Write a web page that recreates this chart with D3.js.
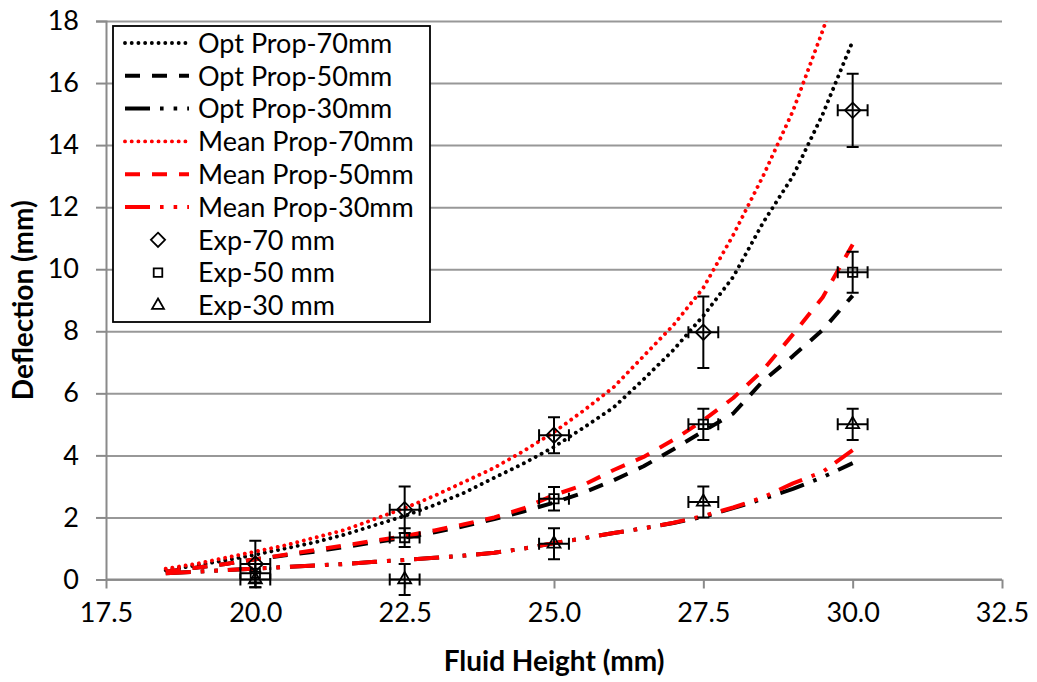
<!DOCTYPE html>
<html><head><meta charset="utf-8">
<script src="https://cdn.jsdelivr.net/npm/d3@7"></script>
<style>
body{margin:0;background:#fff;}
svg{display:block;font-family:Lato,"Noto Sans",sans-serif;}
</style></head>
<body><svg id="chart" width="1037" height="682"></svg>
<script>
// ---- Data ----
const xModel = [18.5,19,19.5,20,20.5,21,21.5,22,22.5,23,23.5,24,24.5,25,25.5,26,26.5,27,27.5,28,28.5,29,29.5,30];
const optProp70  = [0.3,0.45,0.62,0.8,1.0,1.2,1.45,1.75,2.05,2.4,2.8,3.28,3.75,4.27,4.9,5.55,6.45,7.4,8.5,9.75,11.5,13.0,15.0,17.35];
const optProp50  = [0.25,0.38,0.5,0.65,0.78,0.9,1.05,1.2,1.35,1.52,1.72,1.95,2.2,2.48,2.8,3.2,3.65,4.2,4.78,5.35,6.4,7.2,8.05,9.15];
const optProp30  = [0.2,0.25,0.3,0.35,0.4,0.45,0.5,0.57,0.63,0.7,0.77,0.86,1.0,1.17,1.33,1.5,1.65,1.82,2.02,2.3,2.6,2.92,3.3,3.75];
const meanProp70 = [0.35,0.5,0.7,0.9,1.1,1.35,1.6,1.95,2.3,2.7,3.15,3.6,4.15,4.75,5.45,6.2,7.2,8.2,9.4,11.1,13.0,15.1,17.7,20.5];
const meanProp50 = [0.25,0.38,0.5,0.65,0.8,0.95,1.1,1.25,1.4,1.58,1.78,2.0,2.3,2.72,3.05,3.53,3.95,4.5,5.13,5.85,6.75,7.9,9.1,10.8];
const meanProp30 = [0.2,0.25,0.3,0.35,0.4,0.45,0.5,0.57,0.63,0.7,0.77,0.86,1.0,1.17,1.33,1.5,1.65,1.83,2.05,2.32,2.65,3.1,3.47,4.17];

const xExp = [20,22.5,25,27.5,30];
const xExpErr = [0.25,0.25,0.25,0.25,0.25];
const exp70 = [0.5,2.25,4.65,7.97,15.12];
const exp70Err = [0.75,0.75,0.58,1.15,1.18];
const exp50 = [0.2,1.35,2.6,5.0,9.9];
const exp50Err = [0.3,0.3,0.38,0.5,0.66];
const exp30 = [0.0,0.0,1.15,2.5,5.0];
const exp30Err = [0.25,0.5,0.5,0.5,0.5];

const xTicks = [17.5,20,22.5,25,27.5,30,32.5];
const yTicks = [0,2,4,6,8,10,12,14,16,18];
const xTitle = "Fluid Height (mm)";
const yTitle = "Deflection (mm)";

// ---- Layout ----
const svg = d3.select("#chart");
const L = 106, R = 1002, T = 21, B = 579.5;
const x = d3.scaleLinear().domain([17.5,32.5]).range([L,R]);
const y = d3.scaleLinear().domain([0,18]).range([B,T]);
const FS = 27;

svg.append("defs").append("clipPath").attr("id","plotclip")
  .append("rect").attr("x",L-20).attr("y",T).attr("width",R-L+40).attr("height",B-T+30);

// gridlines
const grid = svg.append("g").attr("transform",`translate(${L},0)`)
  .call(d3.axisLeft(y).tickValues(yTicks).tickSize(-(R-L)).tickFormat(""));
grid.select(".domain").remove();
grid.selectAll("line").attr("stroke","#989898").attr("stroke-width",2);

// y axis
const ya = svg.append("g").attr("transform",`translate(${L},0)`)
  .call(d3.axisLeft(y).tickValues(yTicks).tickSize(10).tickPadding(17).tickFormat(d3.format("d")));
ya.select(".domain").attr("stroke","#8a8a8a").attr("stroke-width",2);
ya.selectAll("line").attr("stroke","#8a8a8a").attr("stroke-width",2);
ya.selectAll("text").attr("font-size",FS).attr("fill","#000").attr("font-family","Lato");

// x axis
const xa = svg.append("g").attr("transform",`translate(0,${B})`)
  .call(d3.axisBottom(x).tickValues(xTicks).tickSize(9).tickPadding(14).tickFormat(d3.format(".1f")));
xa.select(".domain").attr("stroke","#8a8a8a").attr("stroke-width",2).attr("d",`M${L},0H${R}`);
xa.selectAll("line").attr("stroke","#8a8a8a").attr("stroke-width",2);
xa.selectAll("text").attr("font-size",FS).attr("fill","#000").attr("font-family","Lato");

// titles
svg.append("text").attr("x",(L+R)/2).attr("y",671).attr("text-anchor","middle")
  .attr("font-size",28).attr("font-weight","bold").text(xTitle);
svg.append("text").attr("transform",`translate(33,${(T+B)/2}) rotate(-90)`).attr("text-anchor","middle")
  .attr("font-size",28).attr("font-weight","bold").text(yTitle);

// line styles
const styles = {
  dot: {dash:"0.01 6.7", cap:"round", w:3.9},
  dash:{dash:"15 12", cap:"butt", w:4},
  ldd: {dash:"25 10 3.6 10 3.6 10", cap:"butt", w:4}
};
const series = [
  {name:"Opt Prop-70mm", vals:optProp70, color:"#000", st:"dot"},
  {name:"Opt Prop-50mm", vals:optProp50, color:"#000", st:"dash"},
  {name:"Opt Prop-30mm", vals:optProp30, color:"#000", st:"ldd"},
  {name:"Mean Prop-70mm", vals:meanProp70, color:"#ff0000", st:"dot"},
  {name:"Mean Prop-50mm", vals:meanProp50, color:"#ff0000", st:"dash"},
  {name:"Mean Prop-30mm", vals:meanProp30, color:"#ff0000", st:"ldd"}
];
const line = d3.line().x(d=>x(d[0])).y(d=>y(d[1]));
const plot = svg.append("g").attr("clip-path","url(#plotclip)");
series.forEach(s=>{
  const st = styles[s.st];
  plot.append("path").datum(xModel.map((xv,i)=>[xv,s.vals[i]]))
    .attr("d",line).attr("fill","none").attr("stroke",s.color)
    .attr("stroke-width",st.w).attr("stroke-dasharray",st.dash).attr("stroke-linecap",st.cap)
    .attr("stroke-linejoin","round");
});

// experimental points
const sym = {diamond:d3.symbolDiamond2, square:d3.symbolSquare2, triangle:d3.symbolTriangle2};
const exps = [
  {name:"Exp-70 mm", vals:exp70, err:exp70Err, shape:"diamond", size:150},
  {name:"Exp-50 mm", vals:exp50, err:exp50Err, shape:"square", size:110},
  {name:"Exp-30 mm", vals:exp30, err:exp30Err, shape:"triangle", size:120}
];
const cap = 6;
exps.forEach(e=>{
  const g = svg.append("g");
  xExp.forEach((xv,i)=>{
    const cx = x(xv), cy = y(e.vals[i]);
    g.append("path").attr("d", d3.symbol(sym[e.shape], e.size)())
      .attr("transform",`translate(${cx},${cy})`).attr("fill","none").attr("stroke","#000").attr("stroke-width",1.8);
    const y1 = y(e.vals[i]+e.err[i]), y2 = y(e.vals[i]-e.err[i]);
    const x1 = x(xv-xExpErr[i]), x2 = x(xv+xExpErr[i]);
    const p = d3.path();
    p.moveTo(cx,y1); p.lineTo(cx,y2);
    p.moveTo(cx-cap,y1); p.lineTo(cx+cap,y1);
    p.moveTo(cx-cap,y2); p.lineTo(cx+cap,y2);
    p.moveTo(x1,cy); p.lineTo(x2,cy);
    p.moveTo(x1,cy-cap); p.lineTo(x1,cy+cap);
    p.moveTo(x2,cy-cap); p.lineTo(x2,cy+cap);
    g.append("path").attr("d",p.toString()).attr("fill","none").attr("stroke","#000").attr("stroke-width",2);
  });
});

// legend
const lg = svg.append("g");
lg.append("rect").attr("x",113).attr("y",26).attr("width",317).attr("height",296)
  .attr("fill","#fff").attr("stroke","#000").attr("stroke-width",1.8);
const rowY = i => 43 + i*32.8;
series.forEach((s,i)=>{
  const st = styles[s.st];
  lg.append("line").attr("x1",125).attr("x2",189).attr("y1",rowY(i)).attr("y2",rowY(i))
    .attr("stroke",s.color).attr("stroke-width",st.w).attr("stroke-dasharray",st.dash).attr("stroke-linecap",st.cap);
  lg.append("text").attr("x",198).attr("y",rowY(i)).attr("dy","0.36em").attr("font-size",FS).text(s.name);
});
exps.forEach((e,j)=>{
  const i = j+6;
  lg.append("path").attr("d",d3.symbol(sym[e.shape], e.size*0.85)())
    .attr("transform",`translate(158,${rowY(i)})`).attr("fill","none").attr("stroke","#000").attr("stroke-width",1.8);
  lg.append("text").attr("x",198).attr("y",rowY(i)).attr("dy","0.36em").attr("font-size",FS).text(e.name);
});
</script></body></html>
